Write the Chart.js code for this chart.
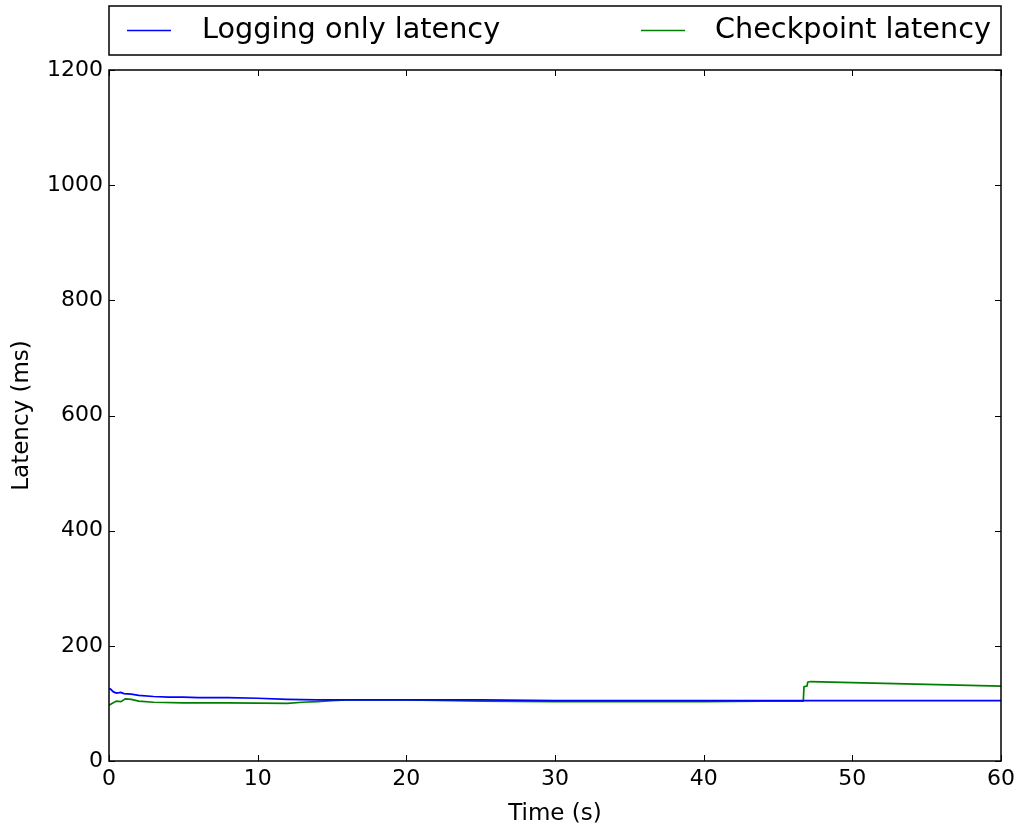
<!DOCTYPE html>
<html>
<head>
<meta charset="utf-8">
<script src="https://cdn.jsdelivr.net/npm/chart.js@4.4.1/dist/chart.umd.min.js"></script>
<style>
html,body{margin:0;padding:0;background:#fff;}
#wrap{width:1021px;height:827px;position:relative;}
</style>
</head>
<body>
<div id="wrap"><canvas id="c" width="1021" height="827"></canvas></div>
<script>
const seriesNames = ["Logging only latency", "Checkpoint latency"];
const loggingTimes = [0, 0.1, 0.3, 0.5, 0.8, 1.0, 1.5, 2, 3, 4, 5, 6, 7, 8, 10, 12, 14, 16, 20, 25, 30, 40, 46, 50, 60];
const loggingLatency = [126, 125, 120, 118, 119, 117, 116, 114, 112, 111, 111, 110, 110, 110, 109, 107, 106, 106, 106, 106, 105, 105, 105, 105, 105];
const checkpointTimes = [0, 0.2, 0.5, 0.8, 1.1, 1.5, 2, 3, 5, 8, 10, 12, 13, 14, 15, 16, 20, 25, 30, 35, 40, 44, 46.7, 46.75, 46.95, 47.0, 47.2, 50, 55, 60];
const checkpointLatency = [97, 100, 104, 103, 108, 107, 104, 102, 101, 101, 100.5, 100, 102, 103, 105, 106, 106, 104, 103, 103, 103, 104, 104, 129, 130, 137, 138, 136, 133, 130];
const xTicks = [0, 10, 20, 30, 40, 50, 60];
const yTicks = [0, 200, 400, 600, 800, 1000, 1200];

const FONT = "'DejaVu Sans', sans-serif";

function toPoints(xs, ys) { return xs.map((x, i) => ({x: x, y: ys[i]})); }

const frameTicks = {
  id: 'frameTicks',
  afterDatasetsDraw(chart) {
    const ctx = chart.ctx, a = chart.chartArea;
    const xs = chart.scales.x, ys = chart.scales.y;
    ctx.save();
    ctx.strokeStyle = '#000';
    ctx.lineWidth = 1;
    const L = 6;
    xTicks.forEach(v => {
      const px = Math.round(xs.getPixelForValue(v)) + 0.5;
      ctx.beginPath();
      ctx.moveTo(px, a.bottom); ctx.lineTo(px, a.bottom - L);
      ctx.moveTo(px, a.top); ctx.lineTo(px, a.top + L);
      ctx.stroke();
    });
    yTicks.forEach(v => {
      const py = Math.round(ys.getPixelForValue(v)) + 0.5;
      ctx.beginPath();
      ctx.moveTo(a.left, py); ctx.lineTo(a.left + L, py);
      ctx.moveTo(a.right, py); ctx.lineTo(a.right - L, py);
      ctx.stroke();
    });
    ctx.lineWidth = 1.5;
    ctx.strokeRect(a.left, a.top, a.right - a.left, a.bottom - a.top);
    ctx.restore();
  }
};

const boxLegend = {
  id: 'boxLegend',
  afterDraw(chart) {
    const ctx = chart.ctx, a = chart.chartArea;
    ctx.save();
    ctx.fillStyle = '#fff';
    ctx.strokeStyle = '#000';
    ctx.lineWidth = 1.5;
    const top = 6, h = 49;
    ctx.fillRect(a.left, top, a.right - a.left, h);
    ctx.strokeRect(a.left, top, a.right - a.left, h);
    const cy = top + h / 2;
    const entries = [
      {x: 127, tx: 202},
      {x: 641, tx: 715}
    ];
    ctx.font = "28.7px " + FONT;
    ctx.textBaseline = 'middle';
    chart.data.datasets.forEach((ds, i) => {
      const e = entries[i];
      ctx.strokeStyle = ds.borderColor;
      ctx.lineWidth = 1.5;
      ctx.beginPath();
      ctx.moveTo(e.x, cy); ctx.lineTo(e.x + 44, cy);
      ctx.stroke();
      ctx.fillStyle = '#000';
      ctx.fillText(ds.label, e.tx, cy);
    });
    ctx.restore();
  }
};

new Chart(document.getElementById('c'), {
  type: 'line',
  data: {
    datasets: [
      {label: seriesNames[0], data: toPoints(loggingTimes, loggingLatency), borderColor: '#0000ff', borderWidth: 1.7, pointRadius: 0, tension: 0, fill: false},
      {label: seriesNames[1], data: toPoints(checkpointTimes, checkpointLatency), borderColor: '#008000', borderWidth: 1.7, pointRadius: 0, tension: 0, fill: false}
    ]
  },
  options: {
    responsive: false,
    animation: false,
    devicePixelRatio: 1,
    layout: {padding: {left: 0, right: 20, top: 70, bottom: 0}},
    plugins: {legend: {display: false}, tooltip: {enabled: false}},
    scales: {
      x: {
        type: 'linear', min: 0, max: 60,
        afterBuildTicks: s => { s.ticks = xTicks.map(v => ({value: v})); },
        afterFit: s => { s.height = 66; },
        grid: {display: false, drawTicks: false},
        border: {display: false},
        ticks: {color: '#000', font: {family: FONT, size: 22}, padding: 5, maxRotation: 0, callback: v => String(v)},
        title: {display: true, text: 'Time (s)', color: '#000', font: {family: FONT, size: 23}, padding: {top: 0, bottom: -1}}
      },
      y: {
        type: 'linear', min: 0, max: 1200,
        afterBuildTicks: s => { s.ticks = yTicks.map(v => ({value: v})); },
        afterFit: s => { s.width = 109; },
        grid: {display: false, drawTicks: false},
        border: {display: false},
        ticks: {color: '#000', font: {family: FONT, size: 22}, padding: 6, callback: v => String(v)},
        title: {display: true, text: 'Latency (ms)', color: '#000', font: {family: FONT, size: 23}, padding: {top: 8, bottom: 0}}
      }
    }
  },
  plugins: [frameTicks, boxLegend]
});
</script>
</body>
</html>
